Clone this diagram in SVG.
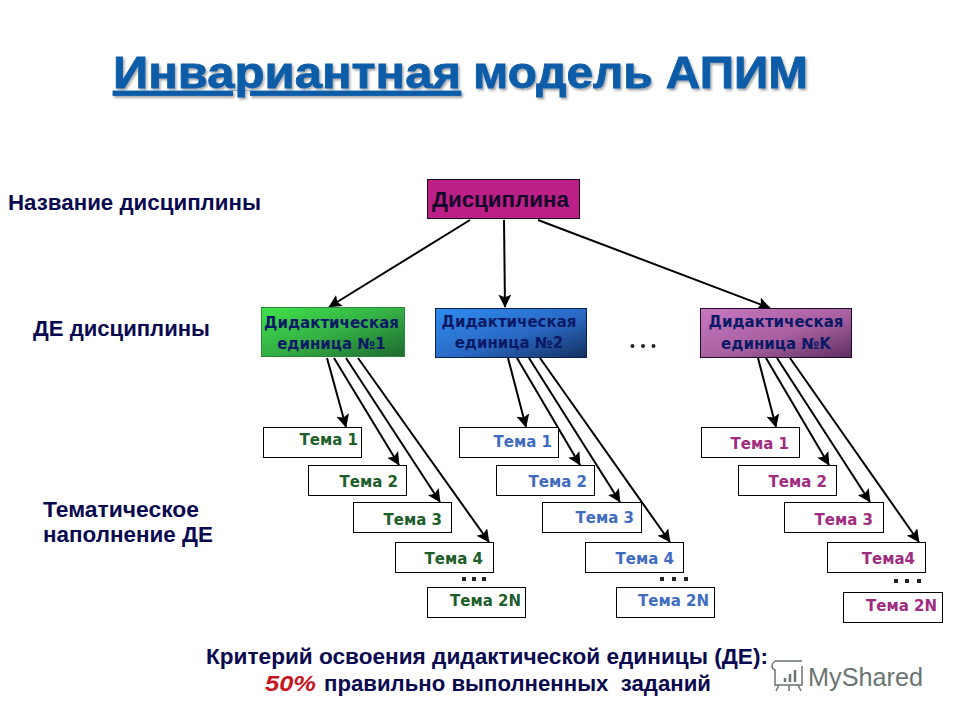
<svg xmlns="http://www.w3.org/2000/svg" width="960" height="720" viewBox="0 0 960 720">
<style>
.lbl{font-family:"Liberation Sans",Arial,sans-serif;font-weight:700;fill:#0a0a50;font-size:22px}
.de{font-family:"DejaVu Sans",Verdana,sans-serif;font-weight:700;font-size:15px;text-anchor:middle;fill:#0b1a66}
.t{font-family:"DejaVu Sans",Verdana,sans-serif;font-weight:700;font-size:15px;text-anchor:end}
.box{fill:#fff;stroke:#000;stroke-width:1}
.g{fill:#1d5e2a}.b{fill:#3f6cc0}.m{fill:#a02c80}
.arr{stroke:#000;stroke-width:2;fill:none;marker-end:url(#ah)}
.dot{fill:#222}
.ttl{font-family:"Liberation Sans",Arial,sans-serif;font-weight:700;font-size:45px;fill:#0e5ca8;stroke:#0e5ca8;stroke-width:0.8}
</style>
<defs>
<marker id="ah" viewBox="0 0 10 10" refX="9.5" refY="5" markerWidth="6.5" markerHeight="6.5" orient="auto"><path d="M0 0L10 5L0 10L2 5Z" fill="#000"/></marker>
<linearGradient id="gg" x1="0" y1="0" x2="1" y2="1"><stop offset="0" stop-color="#3fe24a"/><stop offset="0.5" stop-color="#35b045"/><stop offset="1" stop-color="#1d6a30"/></linearGradient>
<linearGradient id="gb" x1="0" y1="0" x2="1" y2="1"><stop offset="0" stop-color="#2f8cf0"/><stop offset="0.55" stop-color="#2a69c4"/><stop offset="1" stop-color="#14305f"/></linearGradient>
<linearGradient id="gm" x1="0" y1="0" x2="1" y2="1"><stop offset="0" stop-color="#c878c0"/><stop offset="0.55" stop-color="#a860a0"/><stop offset="1" stop-color="#5e2f60"/></linearGradient>
<filter id="sh" x="-5%" y="-20%" width="110%" height="140%"><feDropShadow dx="1.500" dy="2" stdDeviation="1.200" flood-color="#000" flood-opacity="0.35"/></filter>
</defs>
<rect width="960" height="720" fill="#fff"/>

<g id="title" filter="url(#sh)">
<text class="ttl" x="113" y="88" text-decoration="underline" textLength="348" lengthAdjust="spacingAndGlyphs">Инвариантная</text>
<text class="ttl" x="473" y="88" textLength="335" lengthAdjust="spacingAndGlyphs">модель АПИМ</text>
</g>

<g id="row-labels">
<text class="lbl" x="8" y="210" textLength="253" lengthAdjust="spacingAndGlyphs">Название дисциплины</text>
<text class="lbl" x="33" y="336" textLength="177" lengthAdjust="spacingAndGlyphs">ДЕ дисциплины</text>
<text class="lbl" x="43" y="517" textLength="156" lengthAdjust="spacingAndGlyphs">Тематическое</text>
<text class="lbl" x="43" y="542" textLength="170" lengthAdjust="spacingAndGlyphs">наполнение ДЕ</text>
</g>

<g id="connectors">
<path class="arr" d="M470 220L329 307"/>
<path class="arr" d="M504 220L505 307"/>
<path class="arr" d="M538 220L770 308"/>
<path class="arr" d="M327 358L346 427"/>
<path class="arr" d="M334 358L399 465"/>
<path class="arr" d="M346 358L440 502"/>
<path class="arr" d="M358 358L489 542"/>
<path class="arr" d="M508 358L526 427"/>
<path class="arr" d="M517 358L580 465"/>
<path class="arr" d="M529 358L620 502"/>
<path class="arr" d="M540 358L670 542"/>
<path class="arr" d="M758 358L776 427"/>
<path class="arr" d="M766 358L829 465"/>
<path class="arr" d="M777 358L870 502"/>
<path class="arr" d="M790 358L919 542"/>
</g>

<g id="node-discipline">
<rect x="427.500" y="179.500" width="152" height="39" fill="#bc1f86" stroke="#1a0a20"/>
<text x="432" y="207" font-family="Liberation Sans, Arial, sans-serif" font-weight="700" font-size="22" fill="#14062a" textLength="137" lengthAdjust="spacingAndGlyphs">Дисциплина</text>
</g>

<g id="node-de1">
<rect x="261.500" y="307.500" width="143" height="49" fill="url(#gg)" stroke="#2a8a3a"/>
<text class="de" x="331.500" y="328">Дидактическая</text>
<text class="de" x="331.500" y="349">единица №1</text>
</g>
<g id="node-de2">
<rect x="435.500" y="308.500" width="151" height="49" fill="url(#gb)" stroke="#0a2050"/>
<text class="de" x="509" y="327">Дидактическая</text>
<text class="de" x="509" y="348">единица №2</text>
</g>
<g id="node-dek">
<rect x="700.500" y="308.500" width="151" height="49" fill="url(#gm)" stroke="#200a30"/>
<text class="de" x="776" y="327">Дидактическая</text>
<text class="de" x="776" y="349">единица №K</text>
</g>

<g id="ellipsis-main"><circle class="dot" cx="632.500" cy="346" r="2"/><circle class="dot" cx="643" cy="346" r="2"/><circle class="dot" cx="653.500" cy="346" r="2"/></g>

<g id="t1-1"><rect class="box" x="263.500" y="427.500" width="98" height="30"/><text class="t g" x="358" y="445">Тема 1</text></g>
<g id="t1-2"><rect class="box" x="308.500" y="465.500" width="98" height="30"/><text class="t g" x="398" y="487">Тема 2</text></g>
<g id="t1-3"><rect class="box" x="353.500" y="502.500" width="98" height="30"/><text class="t g" x="442" y="525">Тема 3</text></g>
<g id="t1-4"><rect class="box" x="395.500" y="542.500" width="98" height="30"/><text class="t g" x="483" y="564">Тема 4</text></g>
<g id="t1-n"><rect class="box" x="427.500" y="587.500" width="98" height="30"/><text class="t g" x="521" y="606">Тема 2N</text></g>

<g id="t2-1"><rect class="box" x="459.500" y="427.500" width="99" height="30"/><text class="t b" x="552" y="447">Тема 1</text></g>
<g id="t2-2"><rect class="box" x="496.500" y="465.500" width="98" height="30"/><text class="t b" x="587" y="487">Тема 2</text></g>
<g id="t2-3"><rect class="box" x="542.500" y="502.500" width="99" height="30"/><text class="t b" x="634" y="523">Тема 3</text></g>
<g id="t2-4"><rect class="box" x="585.500" y="542.500" width="98" height="30"/><text class="t b" x="674" y="564">Тема 4</text></g>
<g id="t2-n"><rect class="box" x="616.500" y="587.500" width="98" height="30"/><text class="t b" x="709" y="606">Тема 2N</text></g>

<g id="tk-1"><rect class="box" x="701.500" y="427.500" width="98" height="30"/><text class="t m" x="789" y="449">Тема 1</text></g>
<g id="tk-2"><rect class="box" x="738.500" y="465.500" width="98" height="30"/><text class="t m" x="827" y="487">Тема 2</text></g>
<g id="tk-3"><rect class="box" x="784.500" y="502.500" width="99" height="30"/><text class="t m" x="873" y="525">Тема 3</text></g>
<g id="tk-4"><rect class="box" x="827.500" y="542.500" width="98" height="30"/><text class="t m" x="915" y="564">Тема4</text></g>
<g id="tk-n"><rect class="box" x="843.500" y="592.500" width="99" height="30"/><text class="t m" x="937" y="611">Тема 2N</text></g>

<g id="ellipsis-themes">
<rect class="dot" x="462" y="577" width="4" height="4"/><rect class="dot" x="472" y="577" width="4" height="4"/><rect class="dot" x="482" y="577" width="4" height="4"/>
<rect class="dot" x="660" y="577" width="4" height="4"/><rect class="dot" x="672" y="577" width="4" height="4"/><rect class="dot" x="684" y="577" width="4" height="4"/>
<rect class="dot" x="894" y="579" width="4" height="4"/><rect class="dot" x="905" y="579" width="4" height="4"/><rect class="dot" x="917" y="579" width="4" height="4"/>
</g>

<g id="criterion">
<text class="lbl" x="206" y="664" textLength="562" lengthAdjust="spacingAndGlyphs">Критерий освоения дидактической единицы (ДЕ):</text>
<text x="265" y="691" font-family="Liberation Sans, Arial, sans-serif" font-weight="700" font-style="italic" font-size="22" fill="#c8141c" textLength="51" lengthAdjust="spacingAndGlyphs">50%</text>
<text class="lbl" x="324" y="691" textLength="387" lengthAdjust="spacingAndGlyphs" xml:space="preserve">правильно выполненных  заданий</text>
</g>

<g id="watermark" fill="none" stroke="#6a7470" stroke-width="1.500">
<path d="M775 661H802M775 661C771 664 771 668 775 670V685H802V666M779 685L776 691M798 685L801 691M789 685V691"/>
<path d="M785 682V678M790 682V674M795 682V670" stroke-width="2.500"/>
<text x="808" y="686" font-family="Liberation Sans, Arial, sans-serif" font-size="26" fill="#6a7470" stroke="none" textLength="115" lengthAdjust="spacingAndGlyphs">MyShared</text>
</g>
</svg>
